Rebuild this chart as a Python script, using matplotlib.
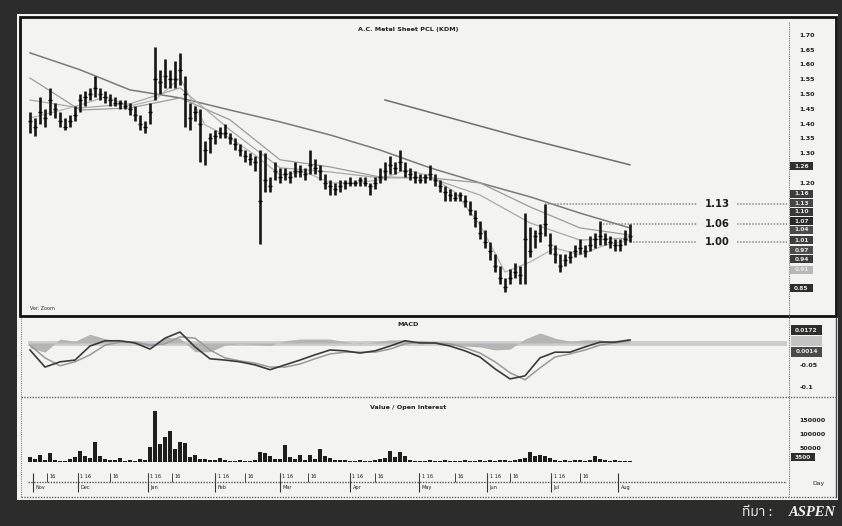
import matplotlib
matplotlib.use("Agg")
import matplotlib.pyplot as plt
from matplotlib.patches import Rectangle
from matplotlib.lines import Line2D
from matplotlib.transforms import blended_transform_factory
from matplotlib import font_manager as fm

# ---------------- data ----------------
close = [1.41,1.39,1.44,1.42,1.48,1.45,1.41,1.39,1.41,1.43,
         1.48,1.49,1.50,1.52,1.50,1.49,1.48,1.47,1.47,1.46,
         1.45,1.43,1.40,1.39,1.44,1.55,1.54,1.56,1.55,1.55,
         1.58,1.50,1.42,1.44,1.40,1.31,1.35,1.36,1.37,1.37,
         1.35,1.33,1.31,1.29,1.28,1.27,1.14,1.21,1.19,1.24,
         1.22,1.23,1.22,1.24,1.24,1.23,1.26,1.25,1.24,1.20,
         1.19,1.18,1.19,1.20,1.20,1.20,1.21,1.20,1.19,1.20,
         1.22,1.24,1.26,1.25,1.27,1.24,1.23,1.22,1.21,1.22,
         1.23,1.21,1.19,1.17,1.16,1.15,1.16,1.14,1.11,1.08,
         1.03,1.00,0.97,0.92,0.88,0.85,0.88,0.90,0.89,1.01,
         0.97,1.02,1.03,1.06,0.99,0.96,0.92,0.94,0.95,0.97,
         0.98,0.97,0.99,1.01,1.02,1.01,1.00,0.99,0.99,1.01,
         1.02]
high = [1.44,1.42,1.49,1.45,1.52,1.47,1.44,1.42,1.43,1.46,
        1.50,1.51,1.52,1.56,1.52,1.51,1.50,1.49,1.48,1.48,
        1.47,1.46,1.43,1.41,1.47,1.66,1.58,1.62,1.58,1.61,
        1.64,1.56,1.47,1.46,1.45,1.34,1.37,1.38,1.39,1.40,
        1.37,1.35,1.33,1.31,1.30,1.29,1.31,1.30,1.22,1.27,
        1.25,1.25,1.24,1.27,1.26,1.25,1.31,1.28,1.26,1.23,
        1.21,1.20,1.21,1.21,1.22,1.21,1.22,1.22,1.20,1.22,
        1.25,1.27,1.29,1.27,1.31,1.27,1.25,1.24,1.23,1.23,
        1.26,1.23,1.21,1.19,1.18,1.17,1.17,1.16,1.14,1.11,
        1.07,1.04,1.00,0.96,0.92,0.88,0.91,0.93,0.92,1.10,
        1.05,1.04,1.06,1.13,1.03,0.99,0.96,0.96,0.97,0.99,
        1.01,0.99,1.02,1.03,1.07,1.03,1.02,1.01,1.01,1.04,
        1.06]
low = [1.37,1.36,1.40,1.39,1.43,1.42,1.39,1.38,1.39,1.41,
       1.44,1.46,1.48,1.49,1.48,1.47,1.46,1.46,1.45,1.45,
       1.43,1.41,1.38,1.37,1.40,1.48,1.50,1.52,1.52,1.52,
       1.53,1.39,1.38,1.41,1.27,1.26,1.30,1.33,1.35,1.35,
       1.33,1.31,1.29,1.27,1.26,1.24,0.995,1.17,1.17,1.21,
       1.20,1.21,1.20,1.22,1.22,1.21,1.23,1.23,1.21,1.18,
       1.16,1.16,1.17,1.18,1.19,1.19,1.19,1.19,1.16,1.18,
       1.20,1.21,1.23,1.23,1.24,1.22,1.21,1.20,1.20,1.20,
       1.21,1.19,1.17,1.14,1.14,1.14,1.14,1.12,1.09,1.05,
       1.01,0.98,0.94,0.90,0.86,0.83,0.86,0.88,0.86,0.86,
       0.95,0.98,1.00,1.02,0.96,0.93,0.90,0.92,0.93,0.95,
       0.96,0.95,0.97,0.98,0.99,0.99,0.98,0.97,0.97,0.99,
       1.00]
volume = [17500,10500,24500,7000,31500,7000,3500,3500,10500,17500,
          38500,21000,14000,70000,21000,10500,7000,7000,14000,3500,
          7000,3500,10500,7000,52500,182000,63000,87500,112000,45500,
          70000,66500,17500,24500,10500,10500,7000,7000,14000,7000,
          3500,3500,7000,3500,3500,7000,35000,31500,21000,10500,
          10500,59500,17500,10500,24500,7000,24500,10500,45500,21000,
          14000,7000,7000,7000,3500,3500,7000,3500,3500,7000,
          10500,14000,38500,17500,35000,21000,7000,3500,3500,3500,
          7000,3500,3500,7000,3500,3500,3500,7000,3500,3500,
          7000,3500,7000,3500,7000,7000,3500,7000,10500,14000,
          35000,21000,24500,21000,14000,7000,3500,7000,3500,7000,
          7000,3500,7000,21000,10500,7000,3500,7000,3500,3500,
          3500]

# moving averages / lines read at bar positions
ma_idx = [0,10,20,30,40,50,60,70,80,90,100,110,120]
ma_long = [1.639,1.582,1.514,1.487,1.446,1.406,1.362,1.311,1.251,1.200,1.153,1.098,1.048]
ma_slow = [1.554,1.446,1.453,1.487,1.413,1.278,1.254,1.220,1.217,1.200,1.119,1.048,1.024]
ma_mid = [1.480,1.453,1.467,1.521,1.379,1.251,1.237,1.217,1.217,1.159,1.065,1.007,1.014]
fast_idx = list(range(0, 121, 5))
ma_fast = [1.419,1.440,1.463,1.490,1.460,1.480,1.554,1.396,1.352,1.294,1.227,1.237,1.200,
           1.200,1.210,1.244,1.224,1.169,1.058,0.899,0.933,0.980,0.957,0.990,1.007]
trend_idx = [71, 98, 120]
trend = [1.480, 1.355, 1.261]

levels = [1.13, 1.06, 1.00]
level_labels = ["1.13", "1.06", "1.00"]
level_start = [103, 114.6, 120]

price_ticks = [1.70,1.65,1.60,1.55,1.50,1.45,1.40,1.35,1.30,1.20]
price_tick_labels = ["1.70","1.65","1.60","1.55","1.50","1.45","1.40","1.35","1.30","1.20"]
box_vals = [1.257,1.163,1.132,1.102,1.071,1.041,1.007,0.973,0.943,0.906,0.845]
box_labels = ["1.26","1.16","1.13","1.10","1.07","1.04","1.01","0.97","0.94","0.91","0.85"]
box_colors = ["#303030","#3c3c3c","#454545","#383838","#2a2a2a","#4a4a4a","#3e3e3e","#4c4c4c","#3a3a3a","#b8b8b8","#2e2e2e"]

macd_idx = list(range(0, 121, 3))
macd = [-0.016,-0.055,-0.043,-0.039,-0.007,0.005,0.005,0.0,-0.014,0.011,
        0.025,-0.009,-0.036,-0.039,-0.043,-0.050,-0.061,-0.050,-0.039,-0.027,
        -0.016,-0.018,-0.023,-0.018,-0.007,0.005,0.0,0.0,-0.007,-0.018,
        -0.032,-0.059,-0.082,-0.075,-0.034,-0.021,-0.021,-0.009,0.002,0.002,0.007]
signal = [-0.005,-0.034,-0.052,-0.043,-0.027,-0.005,0.002,0.002,-0.005,-0.002,
          0.014,0.011,-0.016,-0.034,-0.041,-0.046,-0.055,-0.055,-0.048,-0.036,
          -0.025,-0.021,-0.021,-0.021,-0.014,-0.002,0.002,0.0,-0.002,-0.011,
          -0.023,-0.043,-0.068,-0.084,-0.057,-0.032,-0.025,-0.016,-0.005,0.0,0.005]
macd_ticks = [-0.05, -0.1]
macd_tick_labels = ["-0.05", "-0.1"]
macd_box_vals = [0.0295, 0.0045, -0.0205]
macd_box_labels = ["0.0172", "", "0.0014"]

vol_ticks = [50000, 100000, 150000]
vol_tick_labels = ["50000", "100000", "150000"]

date_major_idx = [0.6, 9.6, 23.6, 37, 50, 64, 77.8, 91.4, 104.2, 117.6]
date_major_labels = ["Nov", "Dec", "Jan", "Feb", "Mar", "Apr", "May", "Jun", "Jul", "Aug"]
date_minor_idx = [3.4, 9.6, 16, 23.6, 28.4, 37, 43, 50, 55.6, 64, 69, 77.8, 85, 91.4, 96, 104.2, 110]
date_minor_labels = ["16", "1 16", "16", "1 16", "16", "1 16", "16", "1 16", "16",
                     "1 16", "16", "1 16", "16", "1 16", "16", "1 16", "16"]

title = "A.C. Metal Sheet PCL (KDM)"

# ---------------- figure ----------------
W, H = 842, 526
fig = plt.figure(figsize=(W / 100, H / 100), dpi=100)
fig.patch.set_facecolor('#2c2c2c')

def fbox(x0, y0, x1, y1):
    return [x0 / W, 1 - y1 / H, (x1 - x0) / W, (y1 - y0) / H]

def fx(x):
    return x / W

def fy(y):
    return 1 - y / H

# white sheet
fig.add_artist(Rectangle((fx(17), fy(500)), (838 - 17) / W, (500 - 14) / H,
                         transform=fig.transFigure, facecolor='#f3f3f1',
                         edgecolor='none', zorder=-5))

XL = (-0.4, 151.4)
small = dict(fontsize=4.6, fontweight='bold', color='#202020')

# ---------------- price pane ----------------
ax_p = fig.add_axes(fbox(28, 20, 787, 315))
ax_p.set_facecolor('none')
ax_p.set_xlim(*XL)
ax_p.set_ylim(0.754, 1.750)
idx = list(range(len(close)))
ax_p.plot(ma_idx, ma_long, color='#7a7a7a', lw=1.1, zorder=2)
ax_p.plot(trend_idx, trend, color='#6e6e6e', lw=1.1, zorder=2)
ax_p.plot(ma_idx, ma_slow, color='#9c9c9c', lw=0.9, zorder=2)
ax_p.plot(ma_idx, ma_mid, color='#a8a8a8', lw=0.9, zorder=2)
ax_p.plot(fast_idx, ma_fast, color='#b4b4b4', lw=0.9, zorder=2)
ax_p.vlines(idx, low, high, colors='#161616', lw=1.9, zorder=3)
ax_p.hlines(close, [i - 0.35 for i in idx], [i + 0.35 for i in idx], colors='#000000', lw=1.0, zorder=3)

for lv, lab, st in zip(levels, level_labels, level_start):
    ax_p.hlines(lv, st, 133.4, colors='#8a8a8a', linestyles=(0, (1, 1)), lw=1.1, zorder=2)
    ax_p.hlines(lv, 141.4, 151.4, colors='#8a8a8a', linestyles=(0, (1, 1)), lw=1.1, zorder=2)
    ax_p.text(137.4, lv, lab, ha='center', va='center', fontsize=7.2,
              fontweight='bold', color='#1e1e1e')

ax_p.yaxis.tick_right()
ax_p.set_yticks(price_ticks)
ax_p.set_yticklabels(price_tick_labels)
ax_p.tick_params(axis='y', length=0, pad=9, labelsize=4.6, labelcolor='#202020')
for t in ax_p.get_yticklabels():
    t.set_fontweight('bold')
ax_p.set_xticks([])
for s in ax_p.spines.values():
    s.set_visible(False)

tp = blended_transform_factory(fig.transFigure, ax_p.transData)
for v, lab, c in zip(box_vals, box_labels, box_colors):
    ax_p.add_patch(Rectangle((fx(790), v - 0.014), 23 / W, 0.028, transform=tp,
                             facecolor=c, edgecolor='none', clip_on=False, zorder=4))
    ax_p.text(fx(801.5), v, lab, transform=tp, ha='center', va='center',
              fontsize=4.2, color='#e8e8e8', fontweight='bold', clip_on=False, zorder=5)

# ---------------- MACD pane ----------------
ax_m = fig.add_axes(fbox(28, 318, 787, 396))
ax_m.set_facecolor('none')
ax_m.set_xlim(*XL)
ax_m.set_ylim(-0.121, 0.057)
ax_m.axhline(0, color='#cdcdcd', lw=3.5, zorder=1)
hist = [m - s for m, s in zip(macd, signal)]
ax_m.fill_between(macd_idx, 0, hist, color='#b5b5b5', lw=0, zorder=1.5)
ax_m.plot(macd_idx, signal, color='#9a9a9a', lw=1.1, zorder=2)
ax_m.plot(macd_idx, macd, color='#3a3a3a', lw=1.2, zorder=3)
ax_m.yaxis.tick_right()
ax_m.set_yticks(macd_ticks)
ax_m.set_yticklabels(macd_tick_labels)
ax_m.tick_params(axis='y', length=0, pad=9, labelsize=4.6, labelcolor='#202020')
for t in ax_m.get_yticklabels():
    t.set_fontweight('bold')
ax_m.set_xticks([])
for s in ax_m.spines.values():
    s.set_visible(False)
tm = blended_transform_factory(fig.transFigure, ax_m.transData)
for v, lab, c in zip(macd_box_vals, macd_box_labels, ['#2e2e2e', '#c4c4c4', '#4a4a4a']):
    ax_m.add_patch(Rectangle((fx(791), v - 0.011), 31 / W, 0.022, transform=tm,
                             facecolor=c, edgecolor='none', clip_on=False, zorder=4))
    ax_m.text(fx(806.5), v, lab, transform=tm, ha='center', va='center',
              fontsize=4.2, color='#e8e8e8', fontweight='bold', clip_on=False, zorder=5)

# ---------------- volume pane ----------------
ax_v = fig.add_axes(fbox(28, 398, 787, 462))
ax_v.set_facecolor('none')
ax_v.set_xlim(*XL)
ax_v.set_ylim(0, 228500)
ax_v.bar(idx, volume, width=0.7, color='#1e1e1e', zorder=3)
ax_v.hlines(0, 0, 120, colors='#555555', linestyles=(0, (1, 1)), lw=1.0, zorder=2)
ax_v.yaxis.tick_right()
ax_v.set_yticks(vol_ticks)
ax_v.set_yticklabels(vol_tick_labels)
ax_v.tick_params(axis='y', length=0, pad=9, labelsize=4.6, labelcolor='#202020')
for t in ax_v.get_yticklabels():
    t.set_fontweight('bold')
ax_v.set_xticks([])
for s in ax_v.spines.values():
    s.set_visible(False)
tv = blended_transform_factory(fig.transFigure, ax_v.transData)
ax_v.add_patch(Rectangle((fx(791), 4000), 24 / W, 27000, transform=tv,
                         facecolor='#2e2e2e', edgecolor='none', clip_on=False, zorder=4))
ax_v.text(fx(803), 17500, "3500", transform=tv, ha='center', va='center',
          fontsize=4.2, color='#e8e8e8', fontweight='bold', clip_on=False, zorder=5)

# ---------------- date strip ----------------
ax_d = fig.add_axes(fbox(28, 462, 787, 497))
ax_d.set_facecolor('none')
ax_d.set_xlim(*XL)
ax_d.set_ylim(0, 1)
ax_d.axis('off')
ax_d.axhline(0.43, color='#555555', ls=(0, (1, 1)), lw=1.0)
for p, lab in zip(date_major_idx, date_major_labels):
    ax_d.vlines(p, 0.15, 0.7, colors='#333333', lw=0.8)
    ax_d.text(p + 0.5, 0.27, lab, fontsize=3.6, color='#222222', va='center', ha='left')
for p, lab in zip(date_minor_idx, date_minor_labels):
    ax_d.vlines(p, 0.43, 0.7, colors='#444444', lw=0.7)
    ax_d.text(p + 0.5, 0.58, lab, fontsize=3.6, color='#222222', va='center', ha='left')

# ---------------- frames & titles ----------------
fig.add_artist(Rectangle((fx(20), fy(316)), (836 - 20) / W, (316 - 17) / H,
                         transform=fig.transFigure, facecolor='none',
                         edgecolor='#111111', lw=2.0, zorder=6))
fig.add_artist(Line2D([fx(789), fx(789)], [fy(22), fy(496)], transform=fig.transFigure,
                      color='#777777', lw=0.8, ls=(0, (1, 1)), zorder=6))
fig.add_artist(Line2D([fx(21), fx(21)], [fy(318), fy(497)], transform=fig.transFigure,
                      color='#888888', lw=0.8, ls=(0, (1, 1)), zorder=6))
fig.add_artist(Line2D([fx(836), fx(836)], [fy(318), fy(497)], transform=fig.transFigure,
                      color='#444444', lw=1.0, zorder=6))
for y in [397, 497]:
    fig.add_artist(Line2D([fx(21), fx(836)], [fy(y), fy(y)], transform=fig.transFigure,
                          color='#666666', lw=1.0, ls=(0, (1, 1)), zorder=6))

fig.text(fx(408), fy(30), title, ha='center', va='center', **small)
fig.text(fx(408), fy(325), "MACD", ha='center', va='center', **small)
fig.text(fx(408), fy(407), "Value / Open Interest", ha='center', va='center', **small)
fig.text(fx(30), fy(309), "Ver. Zoom", ha='left', va='center', fontsize=3.5, color='#333333')
fig.text(fx(818), fy(484), "Day", ha='center', va='center', fontsize=4.4, color='#222222')

# ---------------- caption ----------------
def find_font(ch):
    try:
        from fontTools.ttLib import TTFont
    except Exception:
        return None
    for f in sorted(fm.fontManager.ttflist, key=lambda f: f.name):
        try:
            cmap = TTFont(f.fname, fontNumber=0, lazy=True).getBestCmap()
        except Exception:
            continue
        if cmap and ord(ch) in cmap:
            return f.name
    return None

thai = find_font('\u0e17')
fams = [thai, 'DejaVu Sans'] if thai else ['DejaVu Sans']
fig.text(fx(772), fy(513), "ที่มา :", ha='right', va='center', fontsize=10,
         color='#f2f2f2', style='italic', family=fams)
fig.text(fx(836), fy(513), "ASPEN", ha='right', va='center', fontsize=10.5,
         color='#f2f2f2', style='italic', fontweight='bold', family='Liberation Serif')

fig.savefig('out.png', dpi=100, facecolor=fig.get_facecolor())
